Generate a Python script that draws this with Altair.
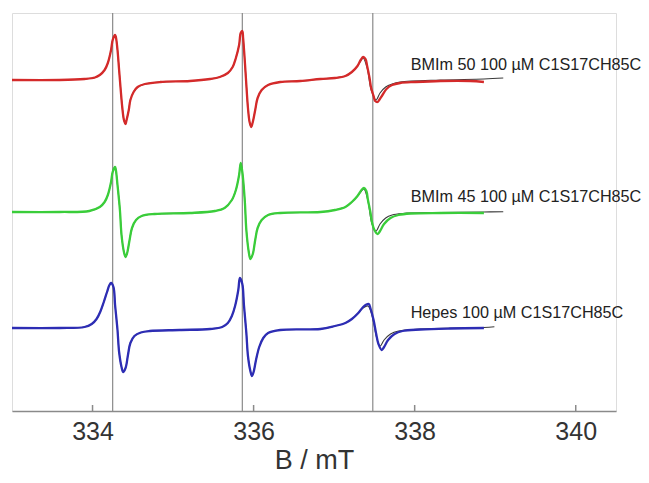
import altair as alt
import pandas as pd

# ---- data (B in mT, intensity in arbitrary units above each baseline) ----
series_names = ["BMIm 50 100 µM C1S17CH85C", "BMIm 45 100 µM C1S17CH85C", "Hepes 100 µM C1S17CH85C"]
series_offsets = [331, 199, 83]
series_colors = ["#d42a2a", "#3acd3a", "#2d2db4"]

ref_lines_B = [334.25, 335.86, 337.48]
tick_values = [334, 336, 338, 340]

# red (BMIm 50)
red_B = [333.00, 333.59, 333.90, 334.03, 334.09, 334.15, 334.19, 334.23, 334.25, 334.28, 334.29,
         334.31, 334.33, 334.35, 334.37, 334.39, 334.41, 334.42, 334.45, 334.47, 334.51, 334.56,
         334.65, 334.84, 335.21, 335.46, 335.58, 335.68, 335.74, 335.78, 335.82, 335.84, 335.86,
         335.87, 335.89, 335.91, 335.93, 335.95, 335.97, 335.99, 336.02, 336.05, 336.10, 336.18,
         336.33, 336.58, 336.83,
         337.01, 337.14, 337.22, 337.29, 337.33, 337.36, 337.39, 337.41, 337.44, 337.46, 337.49,
         337.51, 337.54, 337.56, 337.60, 337.65, 337.72, 337.82, 338.01, 338.32, 338.69, 338.86]
red_I = [0, 0, 1, 2.5, 5, 10, 17, 30, 40, 45, 43,
         30, 10, -10, -28, -40, -44, -41, -30, -20, -12, -7,
         -4, -2, -1, 1, 3, 7, 13, 22, 35, 47, 49,
         42, 20, -5, -28, -42, -47, -42, -30, -18, -10, -5,
         -2, -1, 1,
         2, 4, 8, 14, 20, 23, 21, 14, 2, -8, -16,
         -21, -22, -20, -15, -9, -5, -3, -2, -1, -1, -2]
red_fit3_B = [337.01, 337.14, 337.22, 337.29, 337.33, 337.36, 337.41, 337.46, 337.52, 337.57,
              337.64, 337.72, 337.82, 338.32, 338.86, 339.10]
red_fit3_I = [2, 4, 8, 14, 19, 22, 12, -10, -20, -13, -7, -4, -2, 0, 1, 2]

# green (BMIm 45)
green_B = [333.00, 333.59, 333.96, 334.09, 334.15, 334.19, 334.23, 334.25, 334.28, 334.29, 334.31,
           334.34, 334.36, 334.39, 334.41, 334.43, 334.46, 334.49, 334.54, 334.61, 334.77, 335.21,
           335.52, 335.64, 335.73, 335.78, 335.82, 335.84, 335.86, 335.89, 335.91, 335.94, 335.96,
           335.99, 336.02, 336.05, 336.10, 336.18, 336.33, 336.83,
           337.01, 337.14, 337.22, 337.29, 337.34, 337.37, 337.40, 337.42, 337.45, 337.47, 337.50,
           337.54, 337.57, 337.62, 337.70, 337.80, 337.95, 338.32, 338.86]
green_I = [0, 0, 1, 5, 10, 17, 30, 40, 45, 42, 27,
           2, -23, -40, -45, -41, -28, -16, -8, -4, -2, -1,
           1, 4, 12, 22, 37, 49, 40, 12, -18, -40, -47,
           -42, -28, -16, -8, -3, -1, 0,
           2, 5, 10, 16, 22, 24, 21, 12, 0, -10, -18,
           -22, -19, -12, -6, -3, -1.5, -1, -1]
green_fit3_B = [337.01, 337.14, 337.22, 337.29, 337.34, 337.37, 337.42, 337.47, 337.52, 337.57,
                337.64, 337.72, 337.85, 338.32, 338.86, 339.10]
green_fit3_I = [2, 5, 10, 16, 21, 23, 11, -12, -19, -12, -6, -3, -1.5, -0.5, 0, 0.3]

# blue (Hepes)
blue_B = [333.00, 333.59, 333.90, 333.99, 334.05, 334.10, 334.14, 334.18, 334.21, 334.23, 334.26,
          334.28, 334.31, 334.33, 334.36, 334.38, 334.41, 334.44, 334.47, 334.52, 334.60, 334.71,
          335.08, 335.46, 335.61, 335.68, 335.73, 335.77, 335.81, 335.83, 335.86, 335.88, 335.91,
          335.93, 335.96, 335.98, 336.00, 336.03, 336.07, 336.12, 336.18, 336.33, 336.83,
          337.01, 337.14, 337.22, 337.30, 337.36, 337.40, 337.43, 337.45, 337.49, 337.52, 337.55,
          337.59, 337.62, 337.67, 337.75, 337.85, 338.07, 338.44, 338.86]
blue_I = [0, 0, 1, 4, 9, 17, 26, 36, 43, 45, 41,
          23, -2, -24, -39, -44, -40, -27, -15, -8, -4.5, -3,
          -2, -1, 1, 5, 12, 22, 38, 50, 44, 23, -5,
          -28, -43, -48, -44, -32, -19, -10, -5, -2, -1,
          2, 5, 9, 15, 21, 23.5, 24, 20, 8, -5, -16,
          -22, -19, -12, -6, -3, -1.5, -0.5, 0]
blue_fit3_B = [337.01, 337.14, 337.22, 337.30, 337.36, 337.42, 337.49, 337.52, 337.57, 337.62,
               337.70, 337.80, 338.07, 338.86, 338.99]
blue_fit3_I = [2, 5, 9, 15, 20, 22, 6, -7, -18, -12, -6, -3, -1, 0.5, 1.3]

# ---- assemble tables ----
data_B = [red_B, green_B, blue_B]
data_I = [red_I, green_I, blue_I]
fit3_B = [red_fit3_B, green_fit3_B, blue_fit3_B]
fit3_I = [red_fit3_I, green_fit3_I, blue_fit3_I]

rows = []
fit_rows = []
for name, off, Bs, Is, fB, fI in zip(series_names, series_offsets, data_B, data_I, fit3_B, fit3_I):
    for b, v in zip(Bs, Is):
        rows.append({"B": b, "I": v + off, "series": name})
        if b < 337.0:
            fit_rows.append({"B": b, "I": v + off, "series": name})
    for b, v in zip(fB, fI):
        fit_rows.append({"B": b, "I": v + off, "series": name})

df = pd.DataFrame(rows)
df_fit = pd.DataFrame(fit_rows)
df_lines = pd.DataFrame({"B": ref_lines_B})
df_ticks = pd.DataFrame({"B": tick_values, "y0": [0] * len(tick_values), "y1": [6] * len(tick_values)})
df_labels = pd.DataFrame({"B": [337.95] * 3, "I": [o + 10 for o in series_offsets], "label": series_names})

FONT = "Liberation Sans, Arial, sans-serif"
xscale = alt.Scale(domain=[333, 340.5], nice=False, zero=False)
yscale = alt.Scale(domain=[0, 398], nice=False, zero=False)

x_axis = alt.Axis(values=tick_values, title="B / mT", ticks=False, tickSize=0, grid=False,
                  domainColor="#8a8a8a", domainWidth=1.5, labelFont=FONT, labelFontSize=25,
                  labelColor="#333333", labelPadding=8, titleFont=FONT, titleFontSize=27,
                  titleFontWeight="normal", titleColor="#333333", titleBaseline="alphabetic",
                  titleY=57, format="d")

rules = alt.Chart(df_lines).mark_rule(color="#8a8a8a", strokeWidth=1.2).encode(
    x=alt.X("B:Q", scale=xscale, axis=x_axis)
)

ticks = alt.Chart(df_ticks).mark_rule(color="#8a8a8a", strokeWidth=1.5).encode(
    x=alt.X("B:Q", scale=xscale),
    y=alt.Y("y0:Q", scale=yscale, axis=None),
    y2="y1:Q",
)

fit = alt.Chart(df_fit).mark_line(color="#3a3a3a", strokeWidth=1.1, interpolate="catmull-rom").encode(
    x=alt.X("B:Q", scale=xscale),
    y=alt.Y("I:Q", scale=yscale, axis=None),
    detail="series:N",
)

spectra = alt.Chart(df).mark_line(strokeWidth=2.3, interpolate="catmull-rom").encode(
    x=alt.X("B:Q", scale=xscale),
    y=alt.Y("I:Q", scale=yscale, axis=None),
    color=alt.Color("series:N", scale=alt.Scale(domain=series_names, range=series_colors), legend=None),
)

labels = alt.Chart(df_labels).mark_text(align="left", baseline="alphabetic", font=FONT,
                                        fontSize=16.2, color="#222222").encode(
    x=alt.X("B:Q", scale=xscale),
    y=alt.Y("I:Q", scale=yscale, axis=None),
    text="label:N",
)

chart = alt.layer(rules, ticks, fit, spectra, labels).properties(
    width=604, height=398,
    autosize=alt.AutoSizeParams(type="none"),
    padding={"left": 4, "top": 5, "right": 25, "bottom": 64},
).configure_view(stroke=None).configure(background="white")

chart.save("out.html", embed_options={"renderer": "svg", "actions": False})
